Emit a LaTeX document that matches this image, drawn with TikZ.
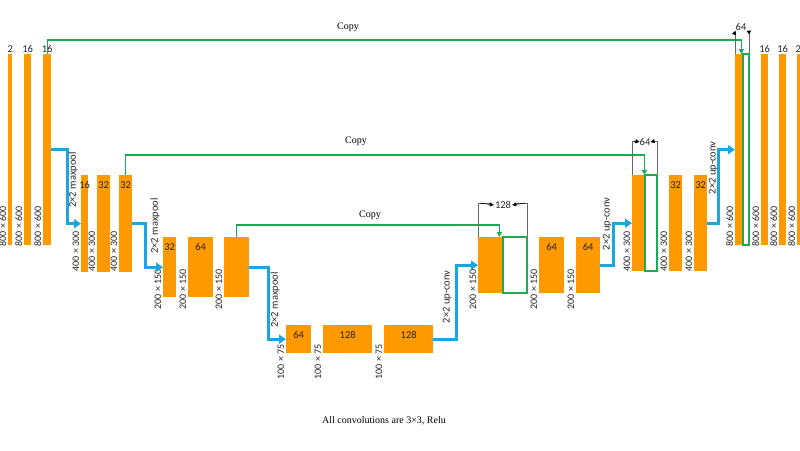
\documentclass[tikz,border=0pt]{standalone}
\usepackage{fontspec}
\setmainfont{Liberation Serif}
\newfontfamily\lbl{Carlito}
\usetikzlibrary{arrows.meta}
\definecolor{orgc}{HTML}{FF9900}
\definecolor{cgreen}{HTML}{1DAA55}
\definecolor{blu}{HTML}{1AA7E0}
\tikzset{
 blk/.style={fill=orgc,draw=none,inner sep=0,anchor=north west},
 gbx/.style={fill=none,draw=none,inner sep=0,anchor=north west},
 gline/.style={draw=cgreen,line width=1.6pt},
 num/.style={font=\lbl\fontsize{10.5}{10.5}\selectfont,inner sep=1pt,text=black!85},
 dim/.style={font=\lbl\fontsize{10}{10}\selectfont,rotate=90,anchor=south west,inner sep=0.5pt,text=black!85},
 pool/.style={draw=blu,line width=2.8pt,-{Triangle[length=7pt,width=9pt]}},
 cp/.style={draw=cgreen,line width=1.1pt,-{Triangle[length=5pt,width=5pt]}},
 br/.style={draw=black!60,line width=0.5pt},
 bra/.style={draw=black,line width=0.6pt,-{Triangle[length=4pt,width=4pt]}},
 op/.style={font=\lbl\fontsize{10.5}{10.5}\selectfont,rotate=90,inner sep=1pt,text=black!85},
 tx/.style={font=\fontsize{10}{10}\selectfont}
}
\newcommand{\blkk}[6][blk]{\node[#1,minimum width=#4-#3,minimum height=#6-#5] (#2) at (#3,#5) {};}
\begin{document}
\begin{tikzpicture}[x=1pt,y=-1pt]
\useasboundingbox (0,0) rectangle (800,450);
% level 1 left
\blkk{a1}{8}{12}{54}{245}
\blkk{a2}{24}{31}{54}{245}
\blkk{a3}{43}{51}{54}{245}
\node[num,anchor=south] (na1) at (a1.north) {2};
\node[num,anchor=south] (na2) at (a2.north) {16};
\node[num,anchor=south] (na3) at (a3.north) {16};
\foreach \n/\x in {da1/8,da2/24,da3/43} \node[dim] (\n) at (\x-1,247) {800 × 600};
% level 2 left
\blkk{b1}{81}{88}{175}{272}
\blkk{b2}{97}{110}{175}{272}
\blkk{b3}{119}{132}{175}{272}
\node[num,anchor=north] (nb1) at ([yshift=-5]b1.north) {16};
\node[num,anchor=north] (nb2) at ([yshift=-5]b2.north) {32};
\node[num,anchor=north] (nb3) at ([yshift=-5]b3.north) {32};
\foreach \n/\x in {db1/81,db2/97,db3/119} \node[dim] (\n) at (\x-1,272) {400 × 300};
% level 3 left
\blkk{c1}{163}{176}{237}{297}
\blkk{c2}{188}{213}{237}{297}
\blkk{c3}{224}{249}{237}{297}
\node[num,anchor=north] (nc1) at ([yshift=-5]c1.north) {32};
\node[num,anchor=north] (nc2) at ([yshift=-5]c2.north) {64};
\foreach \n/\x in {dc1/163,dc2/188,dc3/224} \node[dim] (\n) at (\x-1,310) {200 × 150};
% level 4
\blkk{d1}{286}{311}{325}{353}
\blkk{d2}{323}{372}{325}{353}
\blkk{d3}{384}{433}{325}{353}
\node[num,anchor=north] (nd1) at ([yshift=-5]d1.north) {64};
\node[num,anchor=north] (nd2) at ([yshift=-5]d2.north) {128};
\node[num,anchor=north] (nd3) at ([yshift=-5]d3.north) {128};
\foreach \n/\x in {dd1/286,dd2/323,dd3/384} \node[dim] (\n) at (\x-1,380) {100 × 75};
% level 3 right
\blkk{e1}{478}{503}{237}{293}
\blkk[gbx]{eg}{503}{527}{237}{293}
\blkk{e2}{539}{564}{237}{293}
\blkk{e3}{576}{600}{237}{293}
\node[num,anchor=north] (ne2) at ([yshift=-5]e2.north) {64};
\node[num,anchor=north] (ne3) at ([yshift=-5]e3.north) {64};
\foreach \n/\x in {de1/478,de2/539,de3/576} \node[dim] (\n) at (\x-1,310) {200 × 150};
% level 2 right
\blkk{f1}{632}{645}{175}{271}
\blkk[gbx]{fg}{645}{657}{175}{271}
\blkk{f2}{669}{682}{175}{271}
\blkk{f3}{694}{707}{175}{271}
\node[num,anchor=north] (nf2) at ([yshift=-5]f2.north) {32};
\node[num,anchor=north] (nf3) at ([yshift=-5]f3.north) {32};
\foreach \n/\x in {df1/632,df2/669,df3/694} \node[dim] (\n) at (\x-1,272) {400 × 300};
% level 1 right
\blkk{g1}{735}{743}{54}{245}
\blkk[gbx]{gg}{743}{749}{54}{245}
\blkk{g2}{761}{768}{54}{245}
\blkk{g3}{779}{786}{54}{245}
\blkk{g4}{797}{801}{54}{245}
\node[num,anchor=south] (ng2) at (g2.north) {16};
\node[num,anchor=south] (ng3) at (g3.north) {16};
\node[num,anchor=south] (ng4) at ([xshift=-1]g4.north) {2};
\foreach \n/\x in {dg1/735,dg2/761,dg3/779,dg4/797} \node[dim] (\n) at (\x-1,247) {800 × 600};
% copy connections
\draw[cp] (a3.north) -- ++(0,-14) -| ([xshift=-2]g1.north east);
\node[tx] (cp1) at (348,27) {Copy};
\draw[cp] (b3.north) -- ++(0,-20) -| ([xshift=-1]f1.north east);
\node[tx] (cp2) at (356,141) {Copy};
\draw[cp] (c3.north) -- ++(0,-12) -| ([xshift=-4]e1.north east);
\node[tx] (cp3) at (370,215) {Copy};
% brackets
\node[num] (w3) at (503,205) {128};
\draw[br] (478,237) -- (478,203) -- (490,203);
\draw[br] (527,237) -- (527,203) -- (516,203);
\draw[bra] (480,203) -- (w3.west);
\draw[bra] (525,203) -- (w3.east);
\node[num,inner sep=0] (w2) at (645,142) {64};
\draw[br] (632,175) -- (632,141) -- (638,141);
\draw[br] (657,175) -- (657,141) -- (652,141);
\draw[bra] (634,141) -- (w2.west);
\draw[bra] (655,141) -- (w2.east);
\node[num,inner sep=0] (w1) at (741,27) {64};
\draw[br] (735,54) -- (735,32);
\draw[br] (749,54) -- (749,32);
\draw[bra] (735,32) -- (w1.south west);
\draw[bra] (749,32) -- (w1.south east);
% pooling / up-conv
\draw[pool] (a3.east) -- ++(16,0) |- (b1.west);
\node[op] (p1) at (73,180) {2×2 maxpool};
\draw[pool] (b3.east) -- ++(13,0) |- (c1.west);
\node[op] (p2) at (155,226) {2×2 maxpool};
\draw[pool] (c3.east) -- ++(19,0) |- (d1.west);
\node[op] (p3) at (275,300) {2×2 maxpool};
\draw[pool] (d3.east) -- ++(23,0) |- (e1.west);
\node[op] (u1) at (447,297) {2×2 up-conv};
\draw[pool] (e3.east) -- ++(13,0) |- (f1.west);
\node[op] (u2) at (607,224) {2×2 up-conv};
\draw[pool] (f3.east) -- ++(11,0) |- (g1.west);
\node[op] (u3) at (713,168) {2×2 up-conv};
\node[tx] (foot) at (384,421) {All convolutions are 3×3, Relu};
% green frames on top
\draw[gline] (503,237) rectangle (527,293);
\draw[gline] (645,175) rectangle (657,271);
\draw[gline] (743,54) rectangle (749,245);
\end{tikzpicture}
\end{document}
